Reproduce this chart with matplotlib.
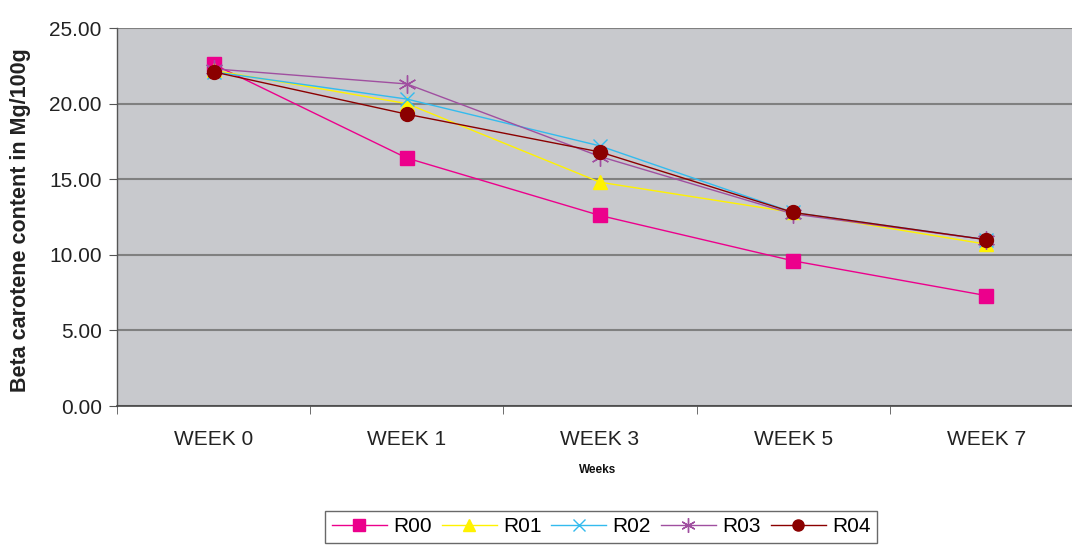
import matplotlib
matplotlib.use("Agg")
import matplotlib.pyplot as plt
import numpy as np

weeks = ["WEEK 0", "WEEK 1", "WEEK 3", "WEEK 5", "WEEK 7"]
r00 = [22.6, 16.4, 12.6, 9.6, 7.3]
r01 = [22.2, 20.0, 14.8, 12.8, 10.7]
r02 = [22.1, 20.3, 17.2, 12.8, 11.0]
r03 = [22.3, 21.3, 16.5, 12.7, 11.0]
r04 = [22.1, 19.3, 16.8, 12.8, 11.0]
series_names = ["R00", "R01", "R02", "R03", "R04"]

plt.rcParams['font.family'] = ['Liberation Sans', 'DejaVu Sans']

W, H = 1072, 545
fig = plt.figure(figsize=(W / 100, H / 100), dpi=100)
left, right, top, bottom = 117, 1083, 28, 406
ax = fig.add_axes([left / W, 1 - bottom / H, (right - left) / W, (bottom - top) / H])
ax.set_facecolor('#C8C9CD')

x = np.arange(len(weeks))
styles = [
    dict(color='#EC008C', marker='s', markersize=10, mfc='#EC008C', mec='#EC008C'),
    dict(color='#FFF200', marker='^', markersize=10.5, mfc='#FFF200', mec='#FFF200'),
    dict(color='#33BBEE', marker='x', markersize=10, mec='#33BBEE', mew=1.0),
    dict(color='#A04FA0', marker=(6, 2, 0), markersize=13, mec='#A04FA0', mew=1.0),
    dict(color='#8B0000', marker='o', markersize=10, mfc='#8B0000', mec='#8B0000'),
]
for name, vals, st in zip(series_names, [r00, r01, r02, r03, r04], styles):
    ax.plot(x, vals, lw=1.0, label=name, zorder=3, **st)

ax.set_xlim(-0.5, len(weeks) - 0.5)
ax.set_ylim(0, 25)
ax.set_yticks(np.arange(0, 25.1, 5))
ax.set_yticklabels([f"{v:.2f}" for v in np.arange(0, 25.1, 5)], fontsize=15, color='#222222')
ax.set_xticks(x)
ax.set_xticklabels(weeks, fontsize=15, color='#222222')
ax.set_xticks(np.arange(-0.5, len(weeks), 1.0), minor=True)
ax.tick_params(axis='x', which='major', length=0, pad=17)
ax.tick_params(axis='x', which='minor', length=6, color='#555555', direction='out')
ax.tick_params(axis='y', length=6, color='#555555', direction='out', pad=5)

ax.grid(axis='y', color='#808080', lw=1.5, zorder=1)
ax.set_axisbelow(True)
for s in ['right', 'top']:
    ax.spines[s].set_visible(False)
ax.spines['left'].set_color('#555555')
ax.spines['bottom'].set_color('#444444')
ax.spines['left'].set_linewidth(1.0)
ax.spines['bottom'].set_linewidth(1.2)

fig.text(21 / W, 1 - 220 / H, "Beta carotene content in Mg/100g", fontsize=15.5, fontweight='bold',
         rotation=90, ha='center', va='center', color='#222222')
fig.text(598 / W, 1 - 470 / H, "Weeks", fontsize=8.5, fontweight='bold', ha='center', va='center', color='#111111')

leg = fig.legend(loc='upper center', bbox_to_anchor=(601 / W, 1 - 511 / H), ncol=5, fontsize=15,
                 frameon=True, fancybox=False, edgecolor='#444444', handlelength=2.65,
                 columnspacing=0.48, handletextpad=0.29, borderpad=0.3, borderaxespad=0,
                 markerscale=0.8)
leg.get_frame().set_linewidth(1.0)

fig.savefig("out.png", dpi=100)
